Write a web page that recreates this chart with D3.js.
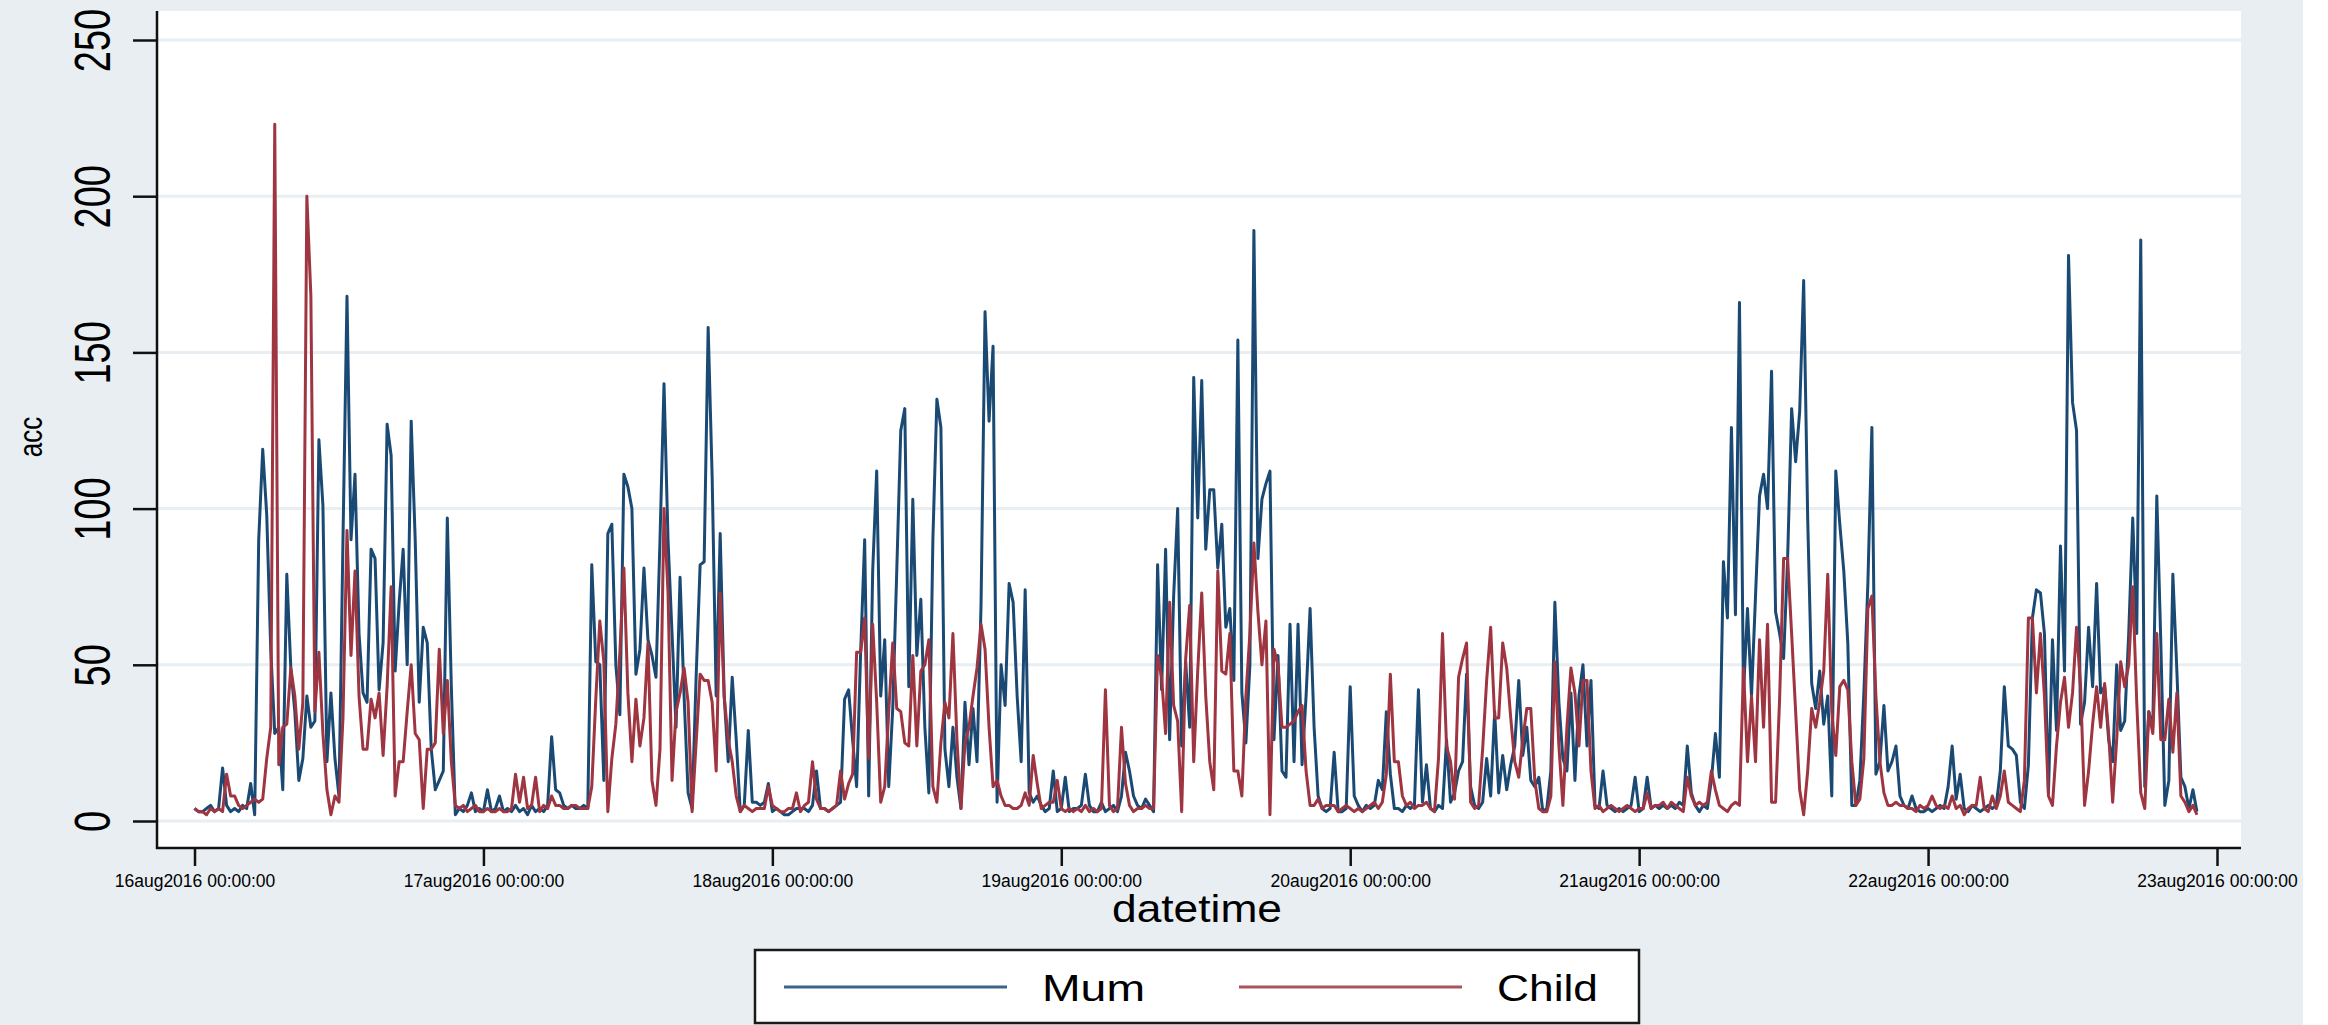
<!DOCTYPE html>
<html>
<head>
<meta charset="utf-8">
<script src="https://cdn.jsdelivr.net/npm/d3@7"></script>
<style>
html,body{margin:0;padding:0;background:#e8eef2;}
svg{display:block;font-family:"Liberation Sans",Arial,Helvetica,sans-serif;}
</style>
</head>
<body>
<svg id="chart" width="2328" height="1025"></svg>
<script>
// ---------------- data ----------------
const seriesNames = ["Mum", "Child"];
const yTicks = [0, 50, 100, 150, 200, 250];
const dayLabels = ["16aug2016 00:00:00","17aug2016 00:00:00","18aug2016 00:00:00","19aug2016 00:00:00",
                   "20aug2016 00:00:00","21aug2016 00:00:00","22aug2016 00:00:00","23aug2016 00:00:00"];
const startTime = "2016-08-16T00:00:00Z";
const stepMinutes = 20;   // one reading every 20 minutes

const mum16 = [4,3,3,4,5,3,4,17,5,3,4,3,5,4,12,2,90,119,98,55,28,30,10,79,49,35,13,20,40,30,32,122,101,19,41,20,8,90,168,90,111,60,41,38,87,84,42,57,127,117,48,70,87,50,128,90,38,62,57,23,10,13,16,97,43,2,4,3,5,9,3,4];
const mum17 = [3,10,3,4,8,3,4,3,5,3,4,2,5,3,4,3,5,27,10,9,5,4,5,4,4,5,4,82,51,50,13,92,95,50,34,111,107,100,47,55,81,58,53,46,90,140,90,60,30,78,40,9,4,46,82,83,158,110,40,92,40,19,46,26,3,5,29,6,6,5,6,12];
const mum18 = [3,4,3,2,2,3,4,4,4,3,5,16,4,4,3,4,5,6,39,42,26,11,54,90,8,80,112,40,58,11,36,80,125,132,43,103,53,71,30,9,90,135,126,23,11,30,14,4,38,18,36,19,69,163,128,152,6,50,37,76,70,40,19,74,9,6,8,5,3,4,16,3];
const mum19 = [4,14,3,4,4,5,15,5,3,3,6,3,4,5,3,8,22,16,8,5,4,7,5,3,82,42,87,26,72,100,24,51,30,142,97,141,87,106,106,81,95,62,68,45,154,41,25,50,189,84,103,108,112,26,53,16,14,63,19,63,18,40,68,30,8,4,3,4,22,3,3,4];
const mum20 = [43,8,5,3,5,4,5,13,10,35,15,4,4,3,5,4,5,42,6,18,4,3,5,4,26,6,9,16,19,47,11,5,4,6,20,8,35,9,21,10,18,24,45,21,30,13,11,14,3,4,16,70,38,20,16,41,13,40,50,24,45,5,4,16,5,4,3,4,3,4,5,14];
const mum21 = [3,4,14,4,5,4,5,4,5,4,6,5,24,9,5,3,5,4,13,28,14,83,65,126,66,166,41,68,40,72,104,111,100,144,67,60,52,84,132,115,131,173,97,44,36,48,31,40,8,112,95,80,57,5,5,13,41,76,126,15,19,37,16,19,24,8,5,4,8,4,3,3];
const mum22 = [4,3,4,5,4,11,24,7,15,4,3,5,4,3,4,5,4,5,16,43,24,23,21,6,4,18,65,74,73,60,9,58,29,88,48,181,134,125,31,38,62,43,76,41,43,26,19,50,29,32,60,97,60,186,11,35,30,104,57,5,13,79,48,14,11,4,10,3];

const child16 = [4,3,3,2,4,3,4,3,15,8,8,5,4,5,6,7,6,7,20,30,223,18,30,31,49,40,23,38,200,168,35,54,28,10,2,8,6,33,93,53,80,40,23,23,39,33,41,21,43,75,8,19,19,35,50,28,26,4,23,23,25,55,28,45,19,5,4,5,3,4,5,3];
const child17 = [3,4,3,3,4,3,3,4,15,6,14,4,5,14,3,5,4,8,5,5,4,4,5,5,4,4,4,11,39,64,51,3,20,31,54,81,41,19,39,24,33,57,13,5,23,100,73,13,35,41,49,38,3,25,47,45,45,38,16,73,40,26,19,8,3,5,4,3,4,4,4,11];
const child18 = [5,4,3,3,4,4,9,3,5,6,19,7,4,4,3,4,5,16,7,12,15,54,54,65,20,63,38,6,11,35,57,36,35,25,24,53,24,48,50,58,11,6,25,38,33,60,26,4,25,30,40,49,63,55,30,11,13,8,5,5,4,4,5,9,5,21,12,4,5,6,6,13];
const child19 = [4,3,4,3,4,3,5,3,4,3,4,42,5,3,4,30,12,5,3,4,4,5,4,4,53,46,28,70,37,32,3,52,69,19,48,73,40,19,10,80,48,47,60,16,16,8,40,60,89,67,50,64,2,55,50,30,30,31,32,35,37,16,5,5,7,4,5,5,5,3,4,5];
const child20 = [4,3,4,3,4,5,6,4,6,15,47,19,19,8,5,6,4,5,5,6,4,3,20,60,24,19,7,46,52,57,6,4,5,23,45,62,33,33,57,49,33,19,14,26,36,36,13,4,3,3,8,51,24,5,30,49,41,24,45,45,16,4,5,3,4,5,4,3,4,5,4,3];
const child21 = [4,4,9,4,5,5,6,4,6,5,4,3,14,8,5,6,5,6,16,10,5,4,3,5,6,5,49,19,40,19,58,30,63,6,6,39,84,84,60,35,10,2,16,36,30,38,48,79,35,21,43,45,42,19,5,7,20,68,72,40,19,9,5,5,6,5,5,4,4,3,5,4];
const child22 = [5,8,5,4,5,4,8,4,5,2,4,5,5,14,4,3,8,4,8,16,6,5,4,3,13,65,65,41,60,40,8,5,24,38,46,30,41,62,43,5,16,31,43,30,44,28,6,26,51,43,50,75,38,9,4,35,28,60,26,26,39,22,41,8,6,3,5,2];

// ---------------- build ----------------
const mumValues = [].concat(mum16, mum17, mum18, mum19, mum20, mum21, mum22);
const childValues = [].concat(child16, child17, child18, child19, child20, child21, child22);
const t0 = new Date(startTime).getTime();
const toPoints = vals => vals.map((v, i) => ({t: new Date(t0 + i * stepMinutes * 60000), v}));
const series = [
  {name: seriesNames[0], color: "#1a4a74", points: toPoints(mumValues)},
  {name: seriesNames[1], color: "#9e3540", points: toPoints(childValues)}
];

const W = 2328, H = 1025;
const plot = {left: 157, right: 2241, top: 11, bottom: 848};
const dayDates = dayLabels.map((s, i) => new Date(t0 + i * 86400000));

const x = d3.scaleUtc().domain([dayDates[0], dayDates[dayDates.length - 1]]).range([194.5, 2217]);
const y = d3.scaleLinear().domain([0, 250]).range([821, 40]);

const svg = d3.select("#chart");

svg.append("rect").attr("x", 0).attr("y", 0).attr("width", W).attr("height", H).attr("fill", "#e8eef2");
svg.append("rect").attr("x", plot.left).attr("y", plot.top)
   .attr("width", plot.right - plot.left).attr("height", plot.bottom - plot.top).attr("fill", "#ffffff");

// gridlines
svg.append("g").selectAll("line").data(yTicks).join("line")
  .attr("x1", plot.left).attr("x2", plot.right)
  .attr("y1", d => y(d)).attr("y2", d => y(d))
  .attr("stroke", "#e8eef1").attr("stroke-width", 3);

// series lines
const line = d3.line().x(d => x(d.t)).y(d => y(d.v));
svg.append("g").selectAll("path").data(series).join("path")
  .attr("d", d => line(d.points))
  .attr("fill", "none")
  .attr("stroke", d => d.color)
  .attr("stroke-width", 3)
  .attr("stroke-linejoin", "round");

// y axis
const yAxis = svg.append("g").attr("transform", `translate(${plot.left},0)`)
  .call(d3.axisLeft(y).tickValues(yTicks).tickSize(24).tickSizeOuter(0));
yAxis.select(".domain").remove();
yAxis.selectAll(".tick line").attr("stroke", "#111").attr("stroke-width", 2.5);
yAxis.selectAll(".tick text")
  .attr("x", null).attr("dy", null).attr("y", null)
  .attr("transform", "translate(-47,0) scale(1.3,1) rotate(-90)")
  .attr("text-anchor", "middle")
  .attr("fill", "#000")
  .style("font-size", "38px");
svg.append("line").attr("x1", plot.left).attr("x2", plot.left)
  .attr("y1", plot.top).attr("y2", plot.bottom + 1)
  .attr("stroke", "#111").attr("stroke-width", 2.5);

// x axis
const xAxis = svg.append("g").attr("transform", `translate(0,${plot.bottom})`)
  .call(d3.axisBottom(x).tickValues(dayDates).tickSize(18).tickSizeOuter(0)
        .tickFormat((d, i) => dayLabels[i]));
xAxis.select(".domain").remove();
xAxis.selectAll(".tick line").attr("stroke", "#111").attr("stroke-width", 2.5);
xAxis.selectAll(".tick text")
  .attr("y", 39).attr("dy", null)
  .attr("fill", "#000")
  .style("font-size", "17.5px");
svg.append("line").attr("x1", plot.left - 1).attr("x2", plot.right)
  .attr("y1", plot.bottom).attr("y2", plot.bottom)
  .attr("stroke", "#111").attr("stroke-width", 2.5);

// axis titles
svg.append("text").attr("x", 1197).attr("y", 922)
  .attr("text-anchor", "middle").attr("textLength", 170).attr("lengthAdjust", "spacingAndGlyphs")
  .style("font-size", "39px").attr("fill", "#000").text("datetime");
svg.append("text").attr("transform", "translate(42,437) scale(1.3,1) rotate(-90)")
  .attr("text-anchor", "middle")
  .style("font-size", "26px").attr("fill", "#000").text("acc");

// legend
const lg = svg.append("g");
lg.append("rect").attr("x", 755).attr("y", 950).attr("width", 884).attr("height", 73)
  .attr("fill", "#ffffff").attr("stroke", "#1a1a1a").attr("stroke-width", 2.5);
const legendItems = [
  {s: series[0], x1: 784, x2: 1007, tx: 1042, tl: 103},
  {s: series[1], x1: 1239, x2: 1462, tx: 1497, tl: 101}
];
legendItems.forEach(it => {
  lg.append("line").attr("x1", it.x1).attr("x2", it.x2).attr("y1", 987).attr("y2", 987)
    .attr("stroke", it.s.color).attr("stroke-width", 3).attr("opacity", 0.85);
  lg.append("text").attr("x", it.tx).attr("y", 1001)
    .attr("textLength", it.tl).attr("lengthAdjust", "spacingAndGlyphs")
    .style("font-size", "37px").attr("fill", "#000").text(it.s.name);
});

// white margin strip on the right edge of the picture
svg.append("rect").attr("x", 2303).attr("y", 0).attr("width", W - 2303).attr("height", H).attr("fill", "#ffffff");
</script>
</body>
</html>
